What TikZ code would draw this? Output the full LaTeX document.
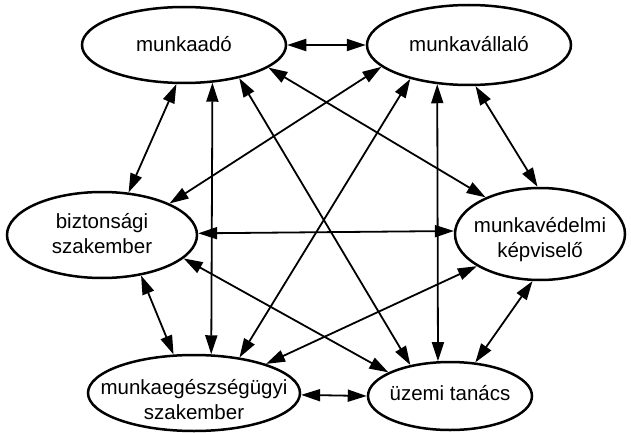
\documentclass[tikz,border=0pt]{standalone}
\usepackage{fontspec}
\setmainfont{Liberation Sans}
\usetikzlibrary{arrows.meta,shapes.geometric}
\newcommand\ndtext[2][0pt]{\raisebox{-#1}[\height][\depth]{\makebox[0pt]{\begin{tabular}{@{}c@{}}#2\end{tabular}}}}
\begin{document}
\begin{tikzpicture}[x=1pt,y=-1pt,
  party/.style={draw, ellipse, line width=2.5pt, inner sep=0pt,
    font=\fontsize{20.5}{24.5}\selectfont},
  link/.style={line width=1.8pt,
    {Triangle[length=19pt,width=12pt]}-{Triangle[length=19pt,width=12pt]}}]
\useasboundingbox (0,0) rectangle (631,433);
\fill[white] (0,0) rectangle (631,433);

\node[party, minimum width=204pt, minimum height=76pt] (A) at (184,45) {\ndtext[2pt]{munkaadó}};
\node[party, minimum width=204pt, minimum height=80pt] (B) at (469,45) {\ndtext[2pt]{munkavállaló}};
\node[party, minimum width=190pt, minimum height=86pt] (C) at (102,235) {\ndtext[1pt]{biztonsági\\szakember}};
\node[party, minimum width=170pt, minimum height=92pt] (D) at (540,234) {\ndtext[6pt]{munkavédelmi\\képviselő}};
\node[party, minimum width=212pt, minimum height=76pt] (E) at (194,393) {\ndtext[9pt]{munkaegészségügyi\\szakember}};
\node[party, minimum width=164pt, minimum height=68pt] (F) at (450,396) {\ndtext{üzemi tanács}};

\draw[link] (A.east) -- (B.west);
\draw[link] (A.-101.9) -- (C.58.2);
\draw[link] (A.-53.6) -- (E.66.2);
\draw[link] (A.-31) -- (F.142.5);
\draw[link] (A.-15.5) -- (D.146.3);
\draw[link] (B.-166.6) -- (C.25.9);
\draw[link] (B.-150) -- (E.38.7);
\draw[link] (B.-129.1) -- (F.109.7);
\draw[link] (B.-81.5) -- (D.93.7);
\draw[link] (C.1.8) -- (D.178.65);
\draw[link] (C.-16.7) -- (F.159.8);
\draw[link] (C.-46.5) -- (E.118.9);
\draw[link] (D.-153.8) -- (E.22.5);
\draw[link] (D.-99.7) -- (F.53.1);
\draw[link] (E.-1.6) -- (F.180);
\end{tikzpicture}
\end{document}
